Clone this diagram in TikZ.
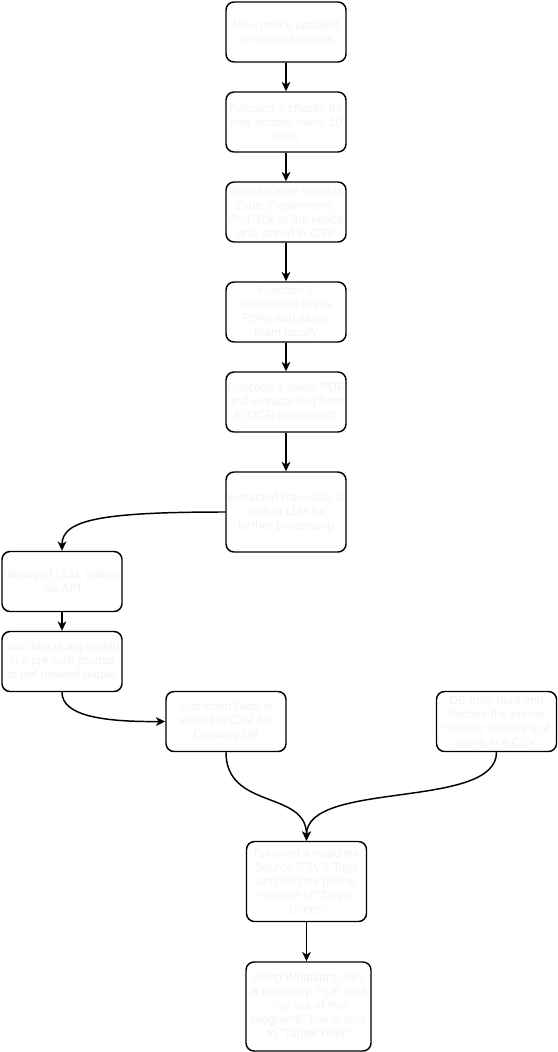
\documentclass[tikz,border=0pt]{standalone}
\usepackage{fontspec}
\setmainfont{Liberation Sans}
\usetikzlibrary{arrows.meta}
\definecolor{txtc}{RGB}{248,241,241}
\begin{document}
\begin{tikzpicture}[x=0.75pt,y=-0.75pt,
  box/.style={draw=black, line width=1.1pt, rounded corners=6pt, minimum width=90pt, minimum height=45pt, inner sep=0pt},
  tall/.style={minimum height=60pt},
  txt/.style={text=txtc, font=\fontsize{9}{10.5}\selectfont, align=center, inner sep=0pt},
  arr/.style={-{Stealth[length=7pt,width=6.5pt,inset=2pt]}, line width=1.1pt}
]
\useasboundingbox (0,0) rectangle (557,1052);

\node[box] (n1) at (286,32) {};
\node[txt] (t1) at (n1) {New notice updated\\on ims ntifications};
\node[box] (n2) at (286,122) {};
\node[txt] (t2) at (n2) {Function 1 checks for\\new notices every 10\\mins};
\node[box] (n3) at (286,212) {};
\node[txt] (t3) at (n3) {Web Scraper extracts\\Date, Department,\\Prof, link to the notice\\and stored in CSV};
\node[box] (n4) at (286,312) {};
\node[txt] (t4) at (n4) {Function 2\\Downloads these\\PDFs and saves\\them locally};
\node[box] (n5) at (286,402) {};
\node[txt] (t5) at (n5) {Function 3 reads PDF\\and extracts text from\\it (OCR is required)};
\node[box,tall] (n6) at (286,512) {};
\node[txt] (t6) at (n6) {Extracted Raw data is\\sent to LLM for\\further processing};
\node[box] (n7) at (62,581.5) {};
\node[txt] (t7) at (n7) {deployed LLM, calling\\via API};
\node[box] (n8) at (62,661.5) {};
\node[txt] (t8) at (n8) {raw data is appended\\in a pre-built prompt\\to get desired output};
\node[box] (n9) at (226,721.5) {};
\node[txt] (t9) at (n9) {Extracted Data is\\stored in CSV file\\Creating DB};
\node[box] (n10) at (496.5,721.5) {};
\node[txt] (t10) at (n10) {DB from front end\\fetches the phone\\number and tag's of\\users in a CSV};
\node[box,tall] (n11) at (306.5,881.5) {};
\node[txt] (t11) at (n11) {Function 4 matches\\Source CSV's Tags\\and fetches phone\\number of "Target\\Users"};
\node[box,minimum width=93.75pt,minimum height=66.75pt] (n12) at (308.5,1006.5) {};
\node[txt] (t12) at (n12) {Using Whatsapp API,\\a summary, PDF, and\\"opt out of this\\programe" link is sent\\to "Target User"};

\draw[arr] (n1) -- (n2);
\draw[arr] (n2) -- (n3);
\draw[arr] (n3) -- (n4);
\draw[arr] (n4) -- (n5);
\draw[arr] (n5) -- (n6);
\draw[arr] (n6.west) .. controls (100,512) and (62,520) .. (n7.north);
\draw[arr] (n7) -- (n8);
\draw[arr] (n8.south) .. controls (62,715) and (100,722) .. (n9.west);
\draw[arr] (n9.south) .. controls (226,810) and (306.5,790) .. (n11.north);
\draw[arr] (n10.south) .. controls (496.5,810) and (306.5,780) .. (n11.north);
\draw[arr] (n11.south) -- (n11.south |- n12.north);
\end{tikzpicture}
\end{document}
